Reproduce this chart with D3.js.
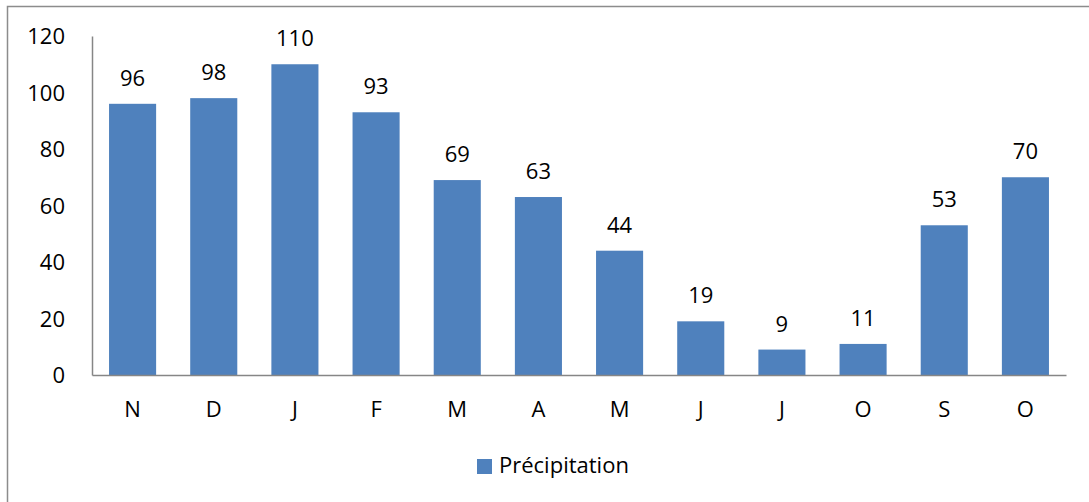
<!DOCTYPE html>
<html>
<head>
<meta charset="utf-8">
<script src="https://cdn.jsdelivr.net/npm/d3@7"></script>
<style>
  html, body { margin: 0; padding: 0; background: #fff; }
  svg { display: block; font-family: "Open Sans", "DejaVu Sans", sans-serif; }
</style>
</head>
<body>
<svg id="chart" width="1089" height="502"></svg>
<script>
// Monthly precipitation, November through October
const months = ["N", "D", "J", "F", "M", "A", "M", "J", "J", "O", "S", "O"];
const precipitation = [96, 98, 110, 93, 69, 63, 44, 19, 9, 11, 53, 70];
const yTicks = [0, 20, 40, 60, 80, 100, 120];
const seriesName = "Précipitation";

const svg = d3.select("#chart");
const W = 1089, H = 502;
const plot = { left: 92, right: 1066, top: 36, bottom: 375 };
const barColor = "#4f81bd";
const axisColor = "#868686";
const textColor = "#000";
const fontSize = 22;

// Outer frame
svg.append("rect")
  .attr("x", 7.5).attr("y", 6.5)
  .attr("width", W + 10).attr("height", H + 10)
  .attr("fill", "none").attr("stroke", "#8c8c8c").attr("stroke-width", 1.5);

const x = d3.scaleBand()
  .domain(d3.range(months.length))
  .range([plot.left, plot.right])
  .paddingInner(0.42)
  .paddingOuter(0.21);

const y = d3.scaleLinear().domain([0, 120]).range([plot.bottom, plot.top]);

// Bars
svg.append("g").selectAll("rect")
  .data(precipitation)
  .join("rect")
  .attr("x", (d, i) => x(i))
  .attr("y", d => y(d))
  .attr("width", x.bandwidth())
  .attr("height", d => y(0) - y(d))
  .attr("fill", barColor);

// Value labels
svg.append("g").selectAll("text")
  .data(precipitation)
  .join("text")
  .attr("x", (d, i) => x(i) + x.bandwidth() / 2)
  .attr("y", d => y(d) - 18)
  .attr("text-anchor", "middle")
  .attr("font-size", fontSize)
  .attr("fill", textColor)
  .text(d => d);

// Y axis
const yAxis = d3.axisLeft(y).tickValues(yTicks).tickSize(0).tickPadding(27);
const gy = svg.append("g").attr("transform", `translate(${plot.left},0)`).call(yAxis);
gy.select(".domain").attr("stroke", axisColor).attr("stroke-width", 1.5);
gy.selectAll("text")
  .attr("font-size", fontSize).attr("fill", textColor)
  .attr("font-family", "Open Sans, DejaVu Sans, sans-serif")
  .attr("dy", "0.36em");

// X axis
const xAxis = d3.axisBottom(x).tickFormat(i => months[i]).tickSize(0).tickPadding(0).tickSizeOuter(0);
const gx = svg.append("g").attr("transform", `translate(0,${plot.bottom})`).call(xAxis);
gx.select(".domain").attr("stroke", axisColor).attr("stroke-width", 1.5);
gx.selectAll("text")
  .attr("font-size", fontSize).attr("fill", textColor)
  .attr("font-family", "Open Sans, DejaVu Sans, sans-serif")
  .attr("dy", null)
  .attr("y", 42);

// Legend
const legend = svg.append("g").attr("transform", "translate(477,459)");
legend.append("rect").attr("width", 15).attr("height", 15).attr("fill", barColor);
legend.append("text")
  .attr("x", 22).attr("y", 14)
  .attr("font-size", fontSize).attr("fill", textColor)
  .text(seriesName);
</script>
</body>
</html>
